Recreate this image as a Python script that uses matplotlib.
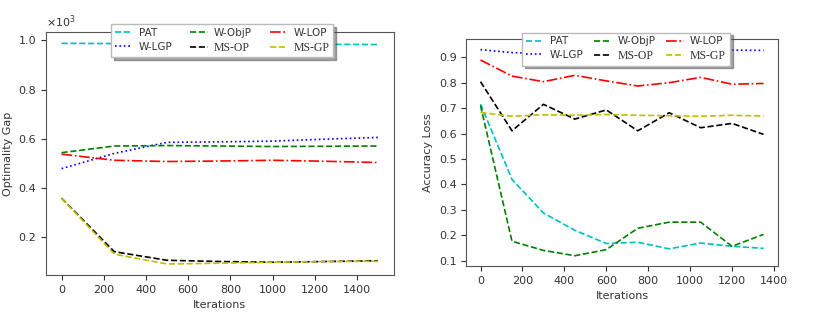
import matplotlib
matplotlib.use('Agg')
import matplotlib.pyplot as plt

# left panel: optimality gap (x10^3)
iters_a = [0, 250, 500, 750, 1000, 1250, 1500]
pat_a = [0.988, 0.987, 0.986, 0.985, 0.985, 0.984, 0.983]
wlgp_a = [0.478, 0.540, 0.585, 0.587, 0.590, 0.598, 0.605]
wobjp_a = [0.543, 0.570, 0.572, 0.570, 0.568, 0.569, 0.570]
msop_a = [0.358, 0.140, 0.105, 0.100, 0.097, 0.100, 0.103]
wlop_a = [0.537, 0.512, 0.507, 0.509, 0.512, 0.508, 0.503]
msgp_a = [0.358, 0.130, 0.090, 0.093, 0.097, 0.100, 0.101]

# right panel: accuracy loss
iters_b = [0, 150, 300, 450, 600, 750, 900, 1050, 1200, 1350]
pat_b = [0.716, 0.420, 0.288, 0.220, 0.168, 0.173, 0.147, 0.170, 0.157, 0.149]
wlgp_b = [0.930, 0.918, 0.915, 0.920, 0.925, 0.927, 0.928, 0.929, 0.928, 0.927]
wobjp_b = [0.710, 0.177, 0.141, 0.120, 0.144, 0.228, 0.252, 0.252, 0.157, 0.204]
msop_b = [0.804, 0.611, 0.715, 0.657, 0.693, 0.611, 0.682, 0.623, 0.640, 0.597]
wlop_b = [0.889, 0.826, 0.804, 0.829, 0.807, 0.787, 0.800, 0.821, 0.794, 0.797]
msgp_b = [0.683, 0.668, 0.674, 0.672, 0.675, 0.672, 0.670, 0.668, 0.672, 0.669]

labels = ['PAT', 'W-LGP', 'W-ObjP', 'MS-OP', 'W-LOP', 'MS-GP']
styles = [('c', '--'), ('b', ':'), ('g', '--'), ('k', '--'), ('r', '-.'), ('y', '--')]
serif_labels = ['MS-OP', 'MS-GP']

plt.rcParams['font.size'] = 8

fig = plt.figure(figsize=(8.24, 3.13), dpi=100)
ax1 = fig.add_axes([0.0555, 0.1214, 0.4225, 0.7754])
ax2 = fig.add_axes([0.566, 0.150, 0.3778, 0.7244])


def draw(ax, x, series, anchor, colsp):
    for s, (c, ls), lab in zip(series, styles, labels):
        ax.plot(x, s, color=c, linestyle=ls, linewidth=1.2, label=lab)
    for sp in ax.spines.values():
        sp.set_color('#555555')
    ax.tick_params(colors='#333333', labelcolor='#333333')
    ax.set_xlabel('Iterations', color='#333333')
    leg = fig.legend(*ax.get_legend_handles_labels(), ncol=3, loc='upper left',
                     bbox_to_anchor=anchor, bbox_transform=fig.transFigure,
                     shadow=True, fancybox=False, fontsize=7.5,
                     labelspacing=0.35, columnspacing=colsp, handlelength=1.7,
                     handletextpad=0.6, borderpad=0.35, borderaxespad=0,
                     edgecolor='#bbbbbb', framealpha=1)
    for t in leg.get_texts():
        if t.get_text() in serif_labels:
            t.set_fontfamily('Liberation Serif')
            t.set_fontsize(8.5)
        t.set_color('#333333')
    return leg


draw(ax1, iters_a, [pat_a, wlgp_a, wobjp_a, msop_a, wlop_a, msgp_a], (0.1347, 0.9224), 1.7)
ax1.set_ylabel('Optimality Gap', color='#333333')
ax1.set_yticks([0.2, 0.4, 0.6, 0.8, 1.0])
ax1.text(0.0, 1.01, r'$\times10^3$', transform=ax1.transAxes, color='#333333',
         ha='left', va='bottom')

draw(ax2, iters_b, [pat_b, wlgp_b, wobjp_b, msop_b, wlop_b, msgp_b], (0.6335, 0.8955), 1.0)
ax2.set_ylabel('Accuracy Loss', color='#333333')
ax2.set_xticks([0, 200, 400, 600, 800, 1000, 1200, 1400])

fig.savefig('out.png', dpi=100)
